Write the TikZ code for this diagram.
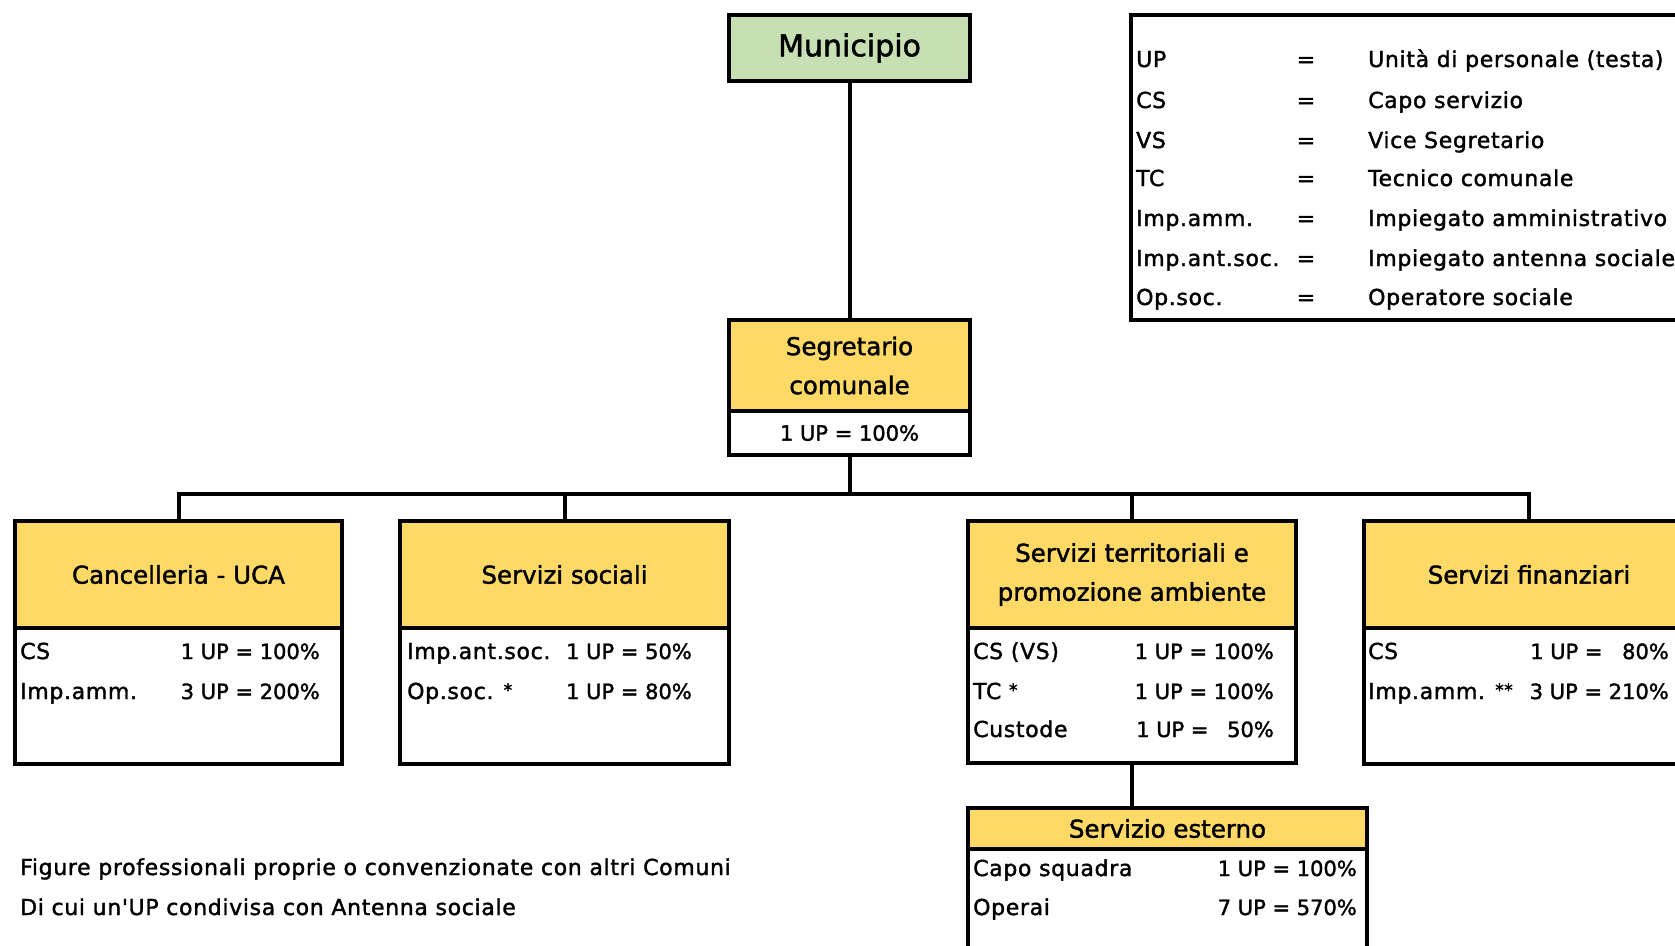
\documentclass[tikz,border=0pt]{standalone}
\usepackage{fontspec}
\setmainfont{DejaVu Sans}[FakeBold=1.6]
\newfontfamily\spacedfam{DejaVu Sans}[FakeBold=1.6,LetterSpace=3]
\definecolor{hdr}{HTML}{FFD966}
\definecolor{mun}{HTML}{C6E0B4}
\newcommand\bfnt{\spacedfam\fontsize{22}{40}\selectfont}
\newcommand\nfnt{\fontsize{21}{40}\selectfont}
\newcommand\hfnt{\fontsize{24.5}{39}\selectfont}
\newcommand\mfnt{\fontsize{30}{36}\selectfont}
\newcommand\myStarA{{\fontsize{17}{17}\selectfont\raisebox{3pt}{*}}}
\newcommand\myStarB{{\fontsize{17}{17}\selectfont\raisebox{3pt}{**}}}
\begin{document}
\begin{tikzpicture}[x=1pt,y=-1pt,
  box/.style={draw, line width=4pt, anchor=north west, inner sep=0pt, align=center},
  hbox/.style={box, fill=hdr, font=\hfnt},
  bbox/.style={box, fill=white, font=\nfnt},
  txt/.style={inner sep=0pt, font=\bfnt, anchor=base west},
  ntxt/.style={inner sep=0pt, font=\nfnt, anchor=base west},
  rtxt/.style={inner sep=0pt, font=\nfnt, anchor=base east},
  ctxt/.style={inner sep=0pt, font=\bfnt, anchor=base},
  conn/.style={line width=4pt}]
\useasboundingbox (0,0) rectangle (1675,945);

% top
\node[box, fill=mun, font=\mfnt, minimum width=241pt, minimum height=66pt] (mun) at (727,13) {Municipio};
\node[hbox, minimum width=241pt, minimum height=91pt] (segh) at (727,318) {Segretario\\comunale};
\node[bbox, minimum width=241pt, minimum height=44pt] (segb) at (727,409) {1 UP = 100\%};

% Cancelleria
\node[hbox, minimum width=327pt, minimum height=107pt] (canch) at (13,519) {Cancelleria - UCA};
\node[bbox, minimum width=327pt, minimum height=136pt] (cancb) at (13,626) {};
\node[txt] (canc1a) at (20,659) {CS};
\node[rtxt] (canc1b) at (320,659) {1 UP = 100\%};
\node[txt] (canc2a) at (20,699) {Imp.amm.};
\node[rtxt] (canc2b) at (320,699) {3 UP = 200\%};

% Servizi sociali
\node[hbox, minimum width=329pt, minimum height=107pt] (soch) at (398,519) {Servizi sociali};
\node[bbox, minimum width=329pt, minimum height=136pt] (socb) at (398,626) {};
\node[txt] (soc1a) at (407,659) {Imp.ant.soc.};
\node[rtxt] (soc1b) at (692,659) {1 UP = 50\%};
\node[txt] (soc2a) at (407,699) {Op.soc. \myStarA};
\node[rtxt] (soc2b) at (692,699) {1 UP = 80\%};

% Servizi territoriali
\node[hbox, minimum width=328pt, minimum height=107pt] (terh) at (966,519) {Servizi territoriali e\\promozione ambiente};
\node[bbox, minimum width=328pt, minimum height=135pt] (terb) at (966,626) {};
\node[txt] (ter1a) at (973,659) {CS (VS)};
\node[rtxt] (ter1b) at (1274,659) {1 UP = 100\%};
\node[txt] (ter2a) at (973,699) {TC \myStarA};
\node[rtxt] (ter2b) at (1274,699) {1 UP = 100\%};
\node[txt] (ter3a) at (973,737) {Custode};
\node[ntxt] (ter3b) at (1136,737) {1 UP =};
\node[rtxt] (ter3c) at (1274,737) {50\%};

% Servizi finanziari
\node[hbox, minimum width=330pt, minimum height=107pt] (finh) at (1362,519) {Servizi finanziari};
\node[bbox, minimum width=330pt, minimum height=136pt] (finb) at (1362,626) {};
\node[txt] (fin1a) at (1368,659) {CS};
\node[ntxt] (fin1b) at (1530,659) {1 UP =};
\node[rtxt] (fin1c) at (1669,659) {80\%};
\node[txt] (fin2a) at (1368,699) {Imp.amm. \myStarB};
\node[rtxt] (fin2b) at (1669,699) {3 UP = 210\%};

% Servizio esterno
\node[hbox, minimum width=399pt, minimum height=41pt] (esth) at (966,806) {Servizio esterno};
\node[bbox, minimum width=399pt, minimum height=130pt] (estb) at (966,847) {};
\node[txt] (est1a) at (973,876) {Capo squadra};
\node[rtxt] (est1b) at (1357,876) {1 UP = 100\%};
\node[txt] (est2a) at (973,915) {Operai};
\node[rtxt] (est2b) at (1357,915) {7 UP = 570\%};

% connectors
\draw[conn] (mun.south) -- (segh.north);
\draw[conn] (segb.south) -- ++(0,37) coordinate (bus);
\draw[conn] (canch.north) |- (bus) -| (finh.north);
\draw[conn] (soch.north) -- (soch.north |- bus);
\draw[conn] (terh.north) -- (terh.north |- bus);
\draw[conn] (terb.south) -- (terb.south |- esth.north);

% legend
\node[box, minimum width=600pt, minimum height=305pt] (leg) at (1129,13) {};
\foreach \a/\d/\y [count=\i] in {UP/Unità di personale (testa)/67, CS/Capo servizio/108, VS/Vice Segretario/148, TC/Tecnico comunale/186, Imp.amm./Impiegato amministrativo/226, Imp.ant.soc./Impiegato antenna sociale/266, Op.soc./Operatore sociale/305}{
  \node[txt] (lega\i) at (1136,\y) {\a};
  \node[ctxt] (legb\i) at (1306,\y) {=};
  \node[txt] (legc\i) at (1368,\y) {\d};
}

% footnotes
\node[txt] (fn1) at (20,875) {Figure professionali proprie o convenzionate con altri Comuni};
\node[txt] (fn2) at (20,915) {Di cui un'UP condivisa con Antenna sociale};
\end{tikzpicture}
\end{document}
